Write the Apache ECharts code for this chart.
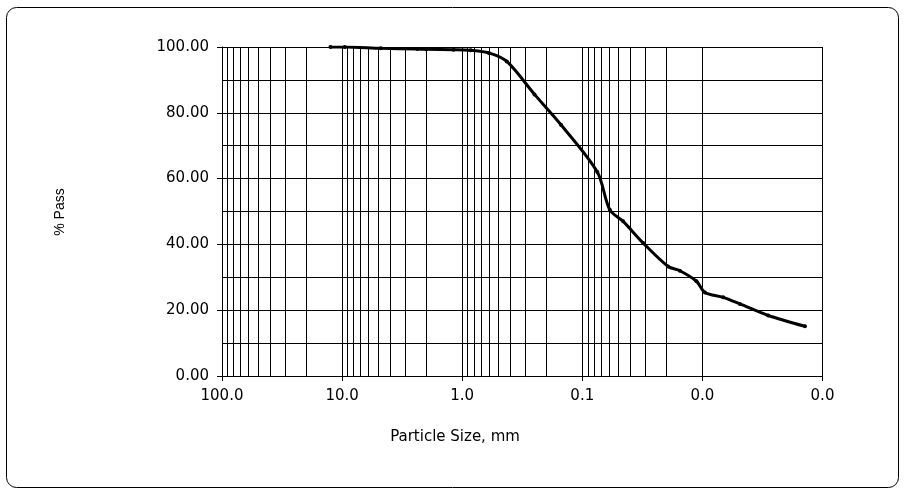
<!DOCTYPE html>
<html>
<head>
<meta charset="utf-8">
<script src="https://cdn.jsdelivr.net/npm/echarts@6/dist/echarts.min.js"></script>
<style>
html,body{margin:0;padding:0;background:#fff;}
#chart{width:906px;height:488px;}
</style>
</head>
<body>
<div id="chart"></div>
<script>
// Particle size (mm) and percent passing
var particleSize = [12.5, 9.5, 4.75, 2.36, 2.0, 1.18, 0.85, 0.6, 0.425, 0.25, 0.15, 0.075, 0.059, 0.0457, 0.0311, 0.0193, 0.0154, 0.0112, 0.00953, 0.00671, 0.00487, 0.00283, 0.0014];
var percentPass  = [100, 100, 99.6, 99.4, 99.3, 99.2, 99.0, 98.2, 95.6, 85.6, 76.3, 62.0, 50.5, 47.0, 40.4, 33.3, 32.0, 28.8, 25.4, 23.9, 21.9, 18.4, 15.1];

// axis settings
var xMin = 0.001, xMax = 100;
var yMin = 0, yMax = 100, yInterval = 20;
var decadeStarts = [0.001, 0.01, 0.1, 1, 10];
var minorMultipliers = [2, 3, 4, 5, 6, 7, 8, 9];

var xTitle = 'Particle Size, mm';
var yTitle = '% Pass';

var minorLines = [];
decadeStarts.forEach(function (d) {
  minorMultipliers.forEach(function (m) {
    minorLines.push({ xAxis: +(d * m).toPrecision(6) });
  });
});

var seriesData = particleSize.map(function (s, i) { return [s, percentPass[i]]; });

var chart = echarts.init(document.getElementById('chart'), null, { renderer: 'canvas' });
var font = '"DejaVu Sans", Verdana, sans-serif';
chart.setOption({
  animation: false,
  backgroundColor: '#fff',
  grid: { left: 222, right: 83.5, top: 47, bottom: 112, containLabel: false },
  xAxis: {
    type: 'log',
    logBase: 10,
    min: xMin,
    max: xMax,
    inverse: true,
    axisLine: { show: true, lineStyle: { color: '#000', width: 1 } },
    axisTick: { show: true, length: 5, lineStyle: { color: '#000' } },
    axisLabel: {
      margin: 13,
      color: '#000',
      fontFamily: font,
      fontSize: 15,
      formatter: function (v) { return Number(v).toFixed(1); }
    },
    splitLine: { show: true, lineStyle: { color: '#000', width: 1 } }
  },
  yAxis: {
    type: 'value',
    min: yMin,
    max: yMax,
    interval: yInterval,
    axisLine: { show: true, lineStyle: { color: '#000', width: 1 } },
    axisTick: { show: true, length: 5, lineStyle: { color: '#000' } },
    axisLabel: {
      margin: 13,
      color: '#000',
      fontFamily: font,
      fontSize: 15,
      formatter: function (v) { return Number(v).toFixed(2); }
    },
    splitLine: { show: true, lineStyle: { color: '#000', width: 1 } },
    minorTick: { show: false, splitNumber: 2 },
    minorSplitLine: { show: true, lineStyle: { color: '#000', width: 1 } }
  },
  series: [{
    type: 'line',
    data: seriesData,
    smooth: 0.3,
    z: 3,
    symbol: 'circle',
    symbolSize: 4,
    showSymbol: true,
    lineStyle: { color: '#000', width: 3 },
    itemStyle: { color: '#000' },
    markLine: {
      silent: true,
      z: 1,
      symbol: ['none', 'none'],
      label: { show: false },
      lineStyle: { color: '#000', width: 1, type: 'solid' },
      emphasis: { disabled: true },
      animation: false,
      data: minorLines
    }
  }],
  graphic: [
    {
      type: 'rect',
      z: -10,
      shape: { x: 6.5, y: 7.5, width: 892, height: 480, r: 10 },
      style: { fill: 'none', stroke: '#000', lineWidth: 1 }
    },
    {
      type: 'text',
      x: 455,
      y: 437,
      style: { text: xTitle, font: '15px ' + font, fill: '#000', align: 'center', verticalAlign: 'middle' }
    },
    {
      type: 'text',
      x: 60,
      y: 212,
      rotation: Math.PI / 2,
      style: { text: yTitle, font: '14px "Liberation Sans", Arial, sans-serif', fill: '#000', align: 'center', verticalAlign: 'middle' }
    }
  ]
});
</script>
</body>
</html>
